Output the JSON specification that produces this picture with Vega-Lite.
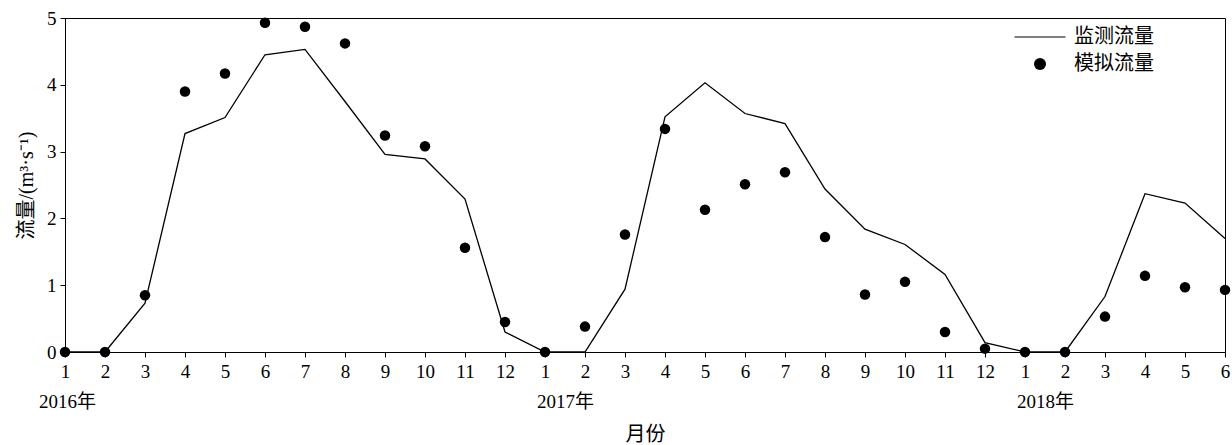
{
  "$schema": "https://vega.github.io/schema/vega-lite/v6.json",
  "width": 1160,
  "height": 334,
  "autosize": {"type": "none"},
  "padding": {"left": 65, "top": 18, "right": 7, "bottom": 93},
  "background": "white",
  "config": {
    "view": {"stroke": "black", "strokeWidth": 1},
    "axis": {
      "grid": false,
      "domainColor": "black",
      "tickColor": "black",
      "labelColor": "black",
      "titleColor": "black",
      "labelFont": "Liberation Serif",
      "labelFontSize": 19,
      "titleFontWeight": "normal",
      "tickSize": 5
    }
  },
  "resolve": {"axis": {"x": "independent"}},
  "data": {
    "values": [
      {"i": 0, "obs": 0, "sim": 0},
      {"i": 1, "obs": 0, "sim": 0},
      {"i": 2, "obs": 0.73, "sim": 0.85},
      {"i": 3, "obs": 3.27, "sim": 3.9},
      {"i": 4, "obs": 3.51, "sim": 4.17},
      {"i": 5, "obs": 4.45, "sim": 4.93},
      {"i": 6, "obs": 4.53, "sim": 4.87},
      {"i": 7, "obs": 3.75, "sim": 4.62},
      {"i": 8, "obs": 2.96, "sim": 3.24},
      {"i": 9, "obs": 2.89, "sim": 3.08},
      {"i": 10, "obs": 2.29, "sim": 1.56},
      {"i": 11, "obs": 0.3, "sim": 0.45},
      {"i": 12, "obs": 0, "sim": 0},
      {"i": 13, "obs": 0, "sim": 0.38},
      {"i": 14, "obs": 0.94, "sim": 1.76},
      {"i": 15, "obs": 3.52, "sim": 3.34},
      {"i": 16, "obs": 4.03, "sim": 2.13},
      {"i": 17, "obs": 3.57, "sim": 2.51},
      {"i": 18, "obs": 3.42, "sim": 2.69},
      {"i": 19, "obs": 2.44, "sim": 1.72},
      {"i": 20, "obs": 1.84, "sim": 0.86},
      {"i": 21, "obs": 1.61, "sim": 1.05},
      {"i": 22, "obs": 1.16, "sim": 0.3},
      {"i": 23, "obs": 0.14, "sim": 0.05},
      {"i": 24, "obs": 0, "sim": 0},
      {"i": 25, "obs": 0, "sim": 0},
      {"i": 26, "obs": 0.83, "sim": 0.53},
      {"i": 27, "obs": 2.37, "sim": 1.14},
      {"i": 28, "obs": 2.23, "sim": 0.97},
      {"i": 29, "obs": 1.7, "sim": 0.93}
    ]
  },
  "layer": [
    {
      "mark": {"type": "line", "color": "black", "strokeWidth": 1.3, "clip": false},
      "encoding": {
        "x": {
          "field": "i",
          "type": "quantitative",
          "scale": {"domain": [0, 29], "nice": false, "zero": false},
          "axis": {
            "title": null,
            "orient": "bottom",
            "values": [0,1,2,3,4,5,6,7,8,9,10,11,12,13,14,15,16,17,18,19,20,21,22,23,24,25,26,27,28,29],
            "labelExpr": "'' + (datum.value % 12 + 1)",
            "labelPadding": 5,
            "labelOverlap": false,
            "labelFlush": false
          }
        },
        "y": {
          "field": "obs",
          "type": "quantitative",
          "scale": {"domain": [0, 5], "nice": false},
          "axis": {
            "title": "流量/(m³·s⁻¹)",
            "titleFont": "Liberation Serif, Noto Sans CJK SC",
            "titleFontSize": 20,
            "titleFontWeight": "normal",
            "format": "d",
            "values": [0, 1, 2, 3, 4, 5],
            "labelPadding": 4,
            "titlePadding": 10
          }
        }
      }
    },
    {
      "mark": {"type": "point", "filled": true, "color": "black", "opacity": 1, "size": 110, "clip": false},
      "encoding": {
        "x": {
          "field": "i",
          "type": "quantitative",
          "axis": {
            "title": "月份",
            "titleFont": "Noto Sans CJK SC",
            "titleFontSize": 20,
            "titleFontWeight": "normal",
            "titlePadding": 13,
            "orient": "bottom",
            "domain": false,
            "ticks": false,
            "tickSize": 0,
            "values": [0, 12, 24],
            "labelExpr": "(2016 + datum.value / 12) + '年'",
            "labelFont": "Liberation Serif, Noto Sans CJK SC",
            "labelPadding": 40,
            "labelOffset": {"condition": {"test": "datum.value == 0", "value": 2}, "value": 20},
            "labelOverlap": false,
            "labelFlush": false
          }
        },
        "y": {"field": "sim", "type": "quantitative"},
        "shape": {
          "datum": "模拟流量",
          "scale": {"domain": ["监测流量", "模拟流量"], "range": ["M-4.25,-0.1H4.25V0.1H-4.25Z", "circle"]},
          "legend": {
            "title": null,
            "orient": "none",
            "legendX": 965,
            "legendY": 9,
            "padding": 0,
            "symbolSize": 144,
            "labelFont": "Noto Sans CJK SC",
            "labelFontSize": 20,
            "labelColor": "black",
            "labelOffset": 24,
            "rowPadding": 7,
            "encode": {
              "symbols": {
                "update": {
                  "fill": {"value": "black"},
                  "opacity": {"value": 1}
                }
              }
            }
          }
        }
      }
    }
  ]
}
